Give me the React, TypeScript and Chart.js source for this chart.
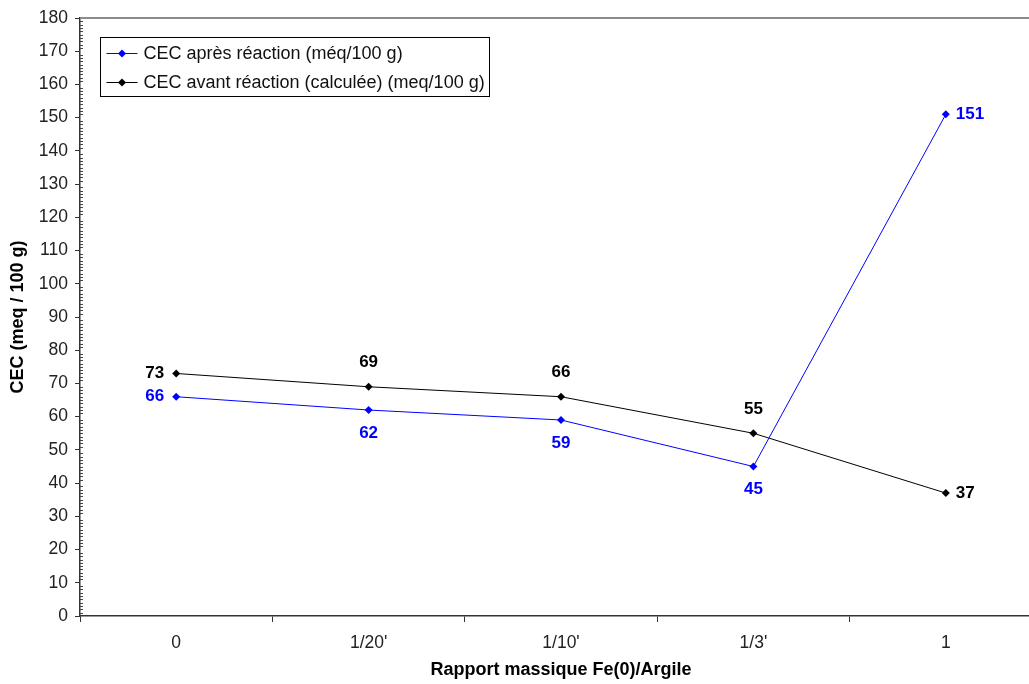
import React, { useEffect, useRef } from "react";
import { Chart, registerables } from "chart.js";

Chart.register(...registerables);

const categories = ["0", "1/20'", "1/10'", "1/3'", "1"];
const apresValues = [66, 62, 59, 45, 151];
const avantValues = [73, 69, 66, 55, 37];
const apresLabelPos = ["left", "below", "below", "below", "right"];
const avantLabelPos = ["left", "above", "above", "above", "right"];
const apresLabel = "CEC après réaction (méq/100 g)";
const avantLabel = "CEC avant réaction (calculée) (meq/100 g)";
const yTitle = "CEC (meq / 100 g)";
const xTitle = "Rapport massique Fe(0)/Argile";
const yMin = 0;
const yMax = 180;
const yStep = 10;

const FONT = "'Liberation Sans', Arial, sans-serif";

const topBorderPlugin = {
  id: "topBorder",
  beforeDatasetsDraw(chart: any) {
    const { ctx, chartArea } = chart;
    ctx.save();
    ctx.strokeStyle = "#8c8c8c";
    ctx.lineWidth = 2;
    ctx.beginPath();
    ctx.moveTo(chartArea.left, chartArea.top);
    ctx.lineTo(chartArea.right, chartArea.top);
    ctx.stroke();
    ctx.restore();
  },
};

const minorTicksPlugin = {
  id: "minorTicks",
  afterDraw(chart: any) {
    const { ctx, chartArea } = chart;
    const y = chart.scales.y;
    ctx.save();
    ctx.strokeStyle = "#444";
    ctx.lineWidth = 1;
    ctx.beginPath();
    for (let v = yMin; v <= yMax; v++) {
      if (v % yStep === 0) continue;
      const py = Math.round(y.getPixelForValue(v)) + 0.5;
      ctx.moveTo(chartArea.left, py);
      ctx.lineTo(chartArea.left + 3, py);
    }
    ctx.stroke();
    ctx.restore();
  },
};

const dataLabelsPlugin = {
  id: "dataLabels",
  afterDatasetsDraw(chart: any) {
    const { ctx } = chart;
    ctx.save();
    ctx.font = `bold 17px ${FONT}`;
    chart.data.datasets.forEach((ds: any, di: number) => {
      const meta = chart.getDatasetMeta(di);
      const positions: string[] = ds.labelPositions || [];
      meta.data.forEach((el: any, i: number) => {
        const text = String(ds.data[i]);
        const pos = positions[i] || "above";
        ctx.fillStyle = ds.borderColor;
        ctx.textBaseline = "middle";
        let x = el.x;
        let yy = el.y;
        if (pos === "left") {
          ctx.textAlign = "right";
          x = el.x - 12;
        } else if (pos === "right") {
          ctx.textAlign = "left";
          x = el.x + 10;
        } else if (pos === "above") {
          ctx.textAlign = "center";
          yy = el.y - 24;
        } else {
          ctx.textAlign = "center";
          yy = el.y + 23;
        }
        ctx.fillText(text, x, yy);
      });
    });
    ctx.restore();
  },
};

const boxLegendPlugin = {
  id: "boxLegend",
  afterDraw(chart: any) {
    const { ctx, chartArea } = chart;
    ctx.save();
    ctx.font = `18px ${FONT}`;
    const datasets = chart.data.datasets;
    let maxW = 0;
    datasets.forEach((ds: any) => {
      maxW = Math.max(maxW, ctx.measureText(ds.label).width);
    });
    const bx = Math.round(chartArea.left + 20) + 0.5;
    const by = Math.round(chartArea.top + 19) + 0.5;
    const bw = Math.round(43 + maxW + 5);
    const bh = 59;
    ctx.fillStyle = "#fff";
    ctx.fillRect(bx, by, bw, bh);
    ctx.strokeStyle = "#000";
    ctx.lineWidth = 1;
    ctx.strokeRect(bx, by, bw, bh);
    datasets.forEach((ds: any, i: number) => {
      const cy = by + 16 + i * 29;
      ctx.strokeStyle = ds.borderColor;
      ctx.lineWidth = 1;
      ctx.beginPath();
      ctx.moveTo(bx + 6, cy);
      ctx.lineTo(bx + 37, cy);
      ctx.stroke();
      const mx = bx + 21.5;
      const r = 4;
      ctx.fillStyle = ds.borderColor;
      ctx.beginPath();
      ctx.moveTo(mx, cy - r);
      ctx.lineTo(mx + r, cy);
      ctx.lineTo(mx, cy + r);
      ctx.lineTo(mx - r, cy);
      ctx.closePath();
      ctx.fill();
      ctx.fillStyle = "#111";
      ctx.textAlign = "left";
      ctx.textBaseline = "middle";
      ctx.fillText(ds.label, bx + 43, cy + 1);
    });
    ctx.restore();
  },
};

export default function App() {
  const canvasRef = useRef<HTMLCanvasElement | null>(null);

  useEffect(() => {
    const canvas = canvasRef.current;
    if (!canvas) return;
    const chart = new Chart(canvas, {
      type: "line",
      data: {
        labels: categories,
        datasets: [
          {
            label: apresLabel,
            data: apresValues,
            borderColor: "#0000ff",
            backgroundColor: "#0000ff",
            borderWidth: 1,
            pointStyle: "rectRot",
            pointRadius: 4,
            pointBorderWidth: 0,
            tension: 0,
            labelPositions: apresLabelPos,
          } as any,
          {
            label: avantLabel,
            data: avantValues,
            borderColor: "#000000",
            backgroundColor: "#000000",
            borderWidth: 1,
            pointStyle: "rectRot",
            pointRadius: 4,
            pointBorderWidth: 0,
            tension: 0,
            labelPositions: avantLabelPos,
          } as any,
        ],
      },
      options: {
        responsive: false,
        animation: false,
        layout: { padding: { top: 18, left: 0, right: 0, bottom: 0 } },
        plugins: {
          legend: { display: false },
          tooltip: { enabled: false },
        },
        scales: {
          x: {
            type: "category",
            offset: true,
            afterFit(scale: any) {
              scale.height = 68;
            },
            grid: {
              offset: true,
              drawOnChartArea: false,
              drawTicks: true,
              tickLength: 6,
              color: "#333",
              lineWidth: 1,
            },
            border: { display: true, color: "#333", width: 1.5 },
            ticks: {
              color: "#222",
              font: { family: FONT, size: 17.5 },
              padding: 11,
              maxRotation: 0,
              autoSkip: false,
            },
            title: {
              display: true,
              text: xTitle,
              color: "#000",
              font: { family: FONT, size: 18, weight: "bold" },
              padding: { top: 0, bottom: 3 },
            },
          },
          y: {
            min: yMin,
            max: yMax,
            afterFit(scale: any) {
              scale.width = 80;
            },
            ticks: {
              stepSize: yStep,
              color: "#222",
              font: { family: FONT, size: 17.5 },
              padding: 7,
            },
            grid: {
              drawOnChartArea: false,
              drawTicks: true,
              tickLength: 5,
              color: "#333",
              lineWidth: 1,
            },
            border: { display: true, color: "#333", width: 1.5 },
            title: {
              display: true,
              text: yTitle,
              color: "#000",
              font: { family: FONT, size: 18, weight: "bold" },
              padding: { top: 7, bottom: 0 },
            },
          },
        },
      } as any,
      plugins: [topBorderPlugin, minorTicksPlugin, dataLabelsPlugin, boxLegendPlugin],
    });
    return () => chart.destroy();
  }, []);

  return (
    <canvas
      ref={canvasRef}
      width={1046}
      height={684}
      style={{ position: "fixed", left: 0, top: 0, width: 1046, height: 684, background: "#fff" }}
    />
  );
}
